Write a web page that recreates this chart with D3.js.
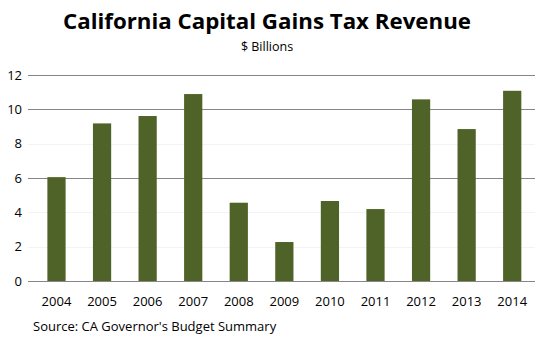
<!DOCTYPE html>
<html>
<head>
<meta charset="utf-8">
<script src="https://cdn.jsdelivr.net/npm/d3@7"></script>
<style>
  body { margin: 0; background: #fff; }
  text { font-family: "Open Sans", "Noto Sans", sans-serif; fill: #000; }
</style>
</head>
<body>
<div id="chart"></div>
<script>
// Data
const years = ["2004", "2005", "2006", "2007", "2008", "2009", "2010", "2011", "2012", "2013", "2014"];
const revenue = [6.05, 9.18, 9.61, 10.89, 4.56, 2.27, 4.66, 4.19, 10.58, 8.85, 11.08];
const yTicks = [0, 2, 4, 6, 8, 10, 12];
const strongGrid = [6, 10, 12];
const faintGrid = [2, 4, 8];

const W = 535, H = 350;
const svg = d3.select("#chart").append("svg")
    .attr("width", W)
    .attr("height", H);

// Scales
const x = d3.scaleBand().domain(years).range([33.7, 535]).paddingInner(0.6).paddingOuter(0.3);
const y = d3.scaleLinear().domain([0, 12]).range([281, 75]);

// Title
svg.append("text")
    .attr("x", 267)
    .attr("y", 29)
    .attr("text-anchor", "middle")
    .style("font-size", "22px")
    .style("font-weight", "bold")
    .attr("textLength", 408)
    .attr("lengthAdjust", "spacingAndGlyphs")
    .text("California Capital Gains Tax Revenue");

svg.append("text")
    .attr("x", 267)
    .attr("y", 51)
    .attr("text-anchor", "middle")
    .style("font-size", "12.5px")
    .text("$ Billions");

// Gridlines
svg.append("g").selectAll("line.faint")
  .data(faintGrid)
  .join("line")
    .attr("x1", 28).attr("x2", W)
    .attr("y1", d => Math.round(y(d)) + 0.5)
    .attr("y2", d => Math.round(y(d)) + 0.5)
    .attr("stroke", "#f3f3f3");

svg.append("g").selectAll("line.strong")
  .data(strongGrid.concat([0]))
  .join("line")
    .attr("x1", 28).attr("x2", W)
    .attr("y1", d => Math.round(y(d)) + 0.5)
    .attr("y2", d => Math.round(y(d)) + 0.5)
    .attr("stroke", "#868686");

// Y labels
svg.append("g").selectAll("text")
  .data(yTicks)
  .join("text")
    .attr("x", 22)
    .attr("y", d => y(d))
    .attr("dy", "0.35em")
    .attr("text-anchor", "end")
    .style("font-size", "13px")
    .text(d => d);

// Bars
svg.append("g").selectAll("rect")
  .data(revenue)
  .join("rect")
    .attr("x", (d, i) => x(years[i]))
    .attr("width", x.bandwidth())
    .attr("y", d => y(d))
    .attr("height", d => y(0) - y(d))
    .attr("fill", "#4f6228");

// X labels
svg.append("g").selectAll("text")
  .data(years)
  .join("text")
    .attr("x", d => x(d) + x.bandwidth() / 2)
    .attr("y", 306)
    .attr("text-anchor", "middle")
    .style("font-size", "13px")
    .text(d => d);

// Source
svg.append("text")
    .attr("x", 33)
    .attr("y", 331)
    .style("font-size", "13px")
    .text("Source: CA Governor's Budget Summary");
</script>
</body>
</html>
